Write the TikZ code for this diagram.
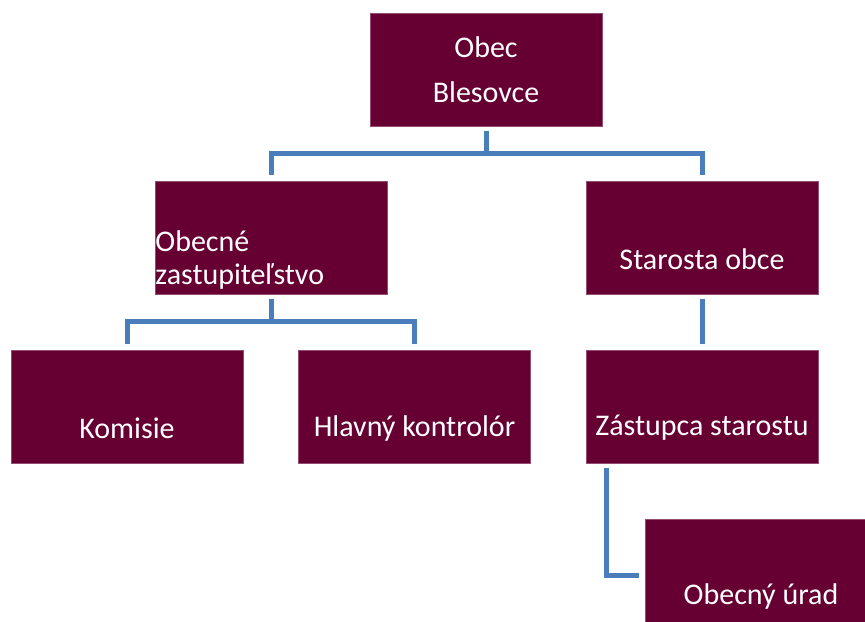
\documentclass[tikz,border=0pt]{standalone}
\usepackage{fontspec}
\setmainfont{Carlito}
\usepackage{tikz}
\usetikzlibrary{positioning}
\definecolor{boxred}{RGB}{102,0,51}
\definecolor{lineblue}{RGB}{74,126,187}

\begin{document}
\begin{tikzpicture}[x=0.5pt,y=-0.5pt,
	box/.style={rectangle,fill=boxred,draw=boxred!70!white,line width=0.4pt,minimum width=116pt,minimum height=56.5pt,inner sep=0pt},
	lbl/.style={text=white,font=\fontsize{15}{16.5}\selectfont,inner sep=0pt},
	conn/.style={draw=lineblue,line width=2.5pt,shorten <=2.5pt,shorten >=3pt}]
		\useasboundingbox (0,0) rectangle (865,621);
		\node[box] (obec) at (486,69.5) {};
		\node[box] (zastup) at (271,237.5) {};
		\node[box] (starosta) at (702,237.5) {};
		\node[box] (komisie) at (127,406.5) {};
		\node[box] (kontrolor) at (414.5,406.5) {};
		\node[box] (zastupca) at (702,406.5) {};
		\node[box] (urad) at (761,575.5) {};
		\node[lbl,align=center,font=\fontsize{15}{22.5}\selectfont] (tobec) at (486,70) {Obec\\Blesovce};
		\node[lbl,align=left,anchor=west] (tzastup) at (155,260) {Obecné\\zastupiteľstvo};
		\node[lbl] (tstarosta) at (702,259) {Starosta obce};
		\node[lbl] (tkomisie) at (127,428) {Komisie};
		\node[lbl] (tkontrolor) at (414.5,428) {Hlavný kontrolór};
		\node[lbl] (tzastupca) at (702,428) {Zástupca starostu};
		\node[lbl] (turad) at (761,596) {Obecný úrad};
		% spojnice
		\draw[conn] (obec.south) -- ++(0,27) -| (zastup.north);
		\draw[conn] (obec.south) -- ++(0,27) -| (starosta.north);
		\draw[conn] (zastup.south) -- ++(0,27) -| (komisie.north);
		\draw[conn] (zastup.south) -- ++(0,27) -| (kontrolor.north);
		\draw[conn] (starosta.south) -- (zastupca.north);
		\draw[conn] ([xshift=-48pt]zastupca.south) |- (urad.west);
	\end{tikzpicture}
\end{document}
